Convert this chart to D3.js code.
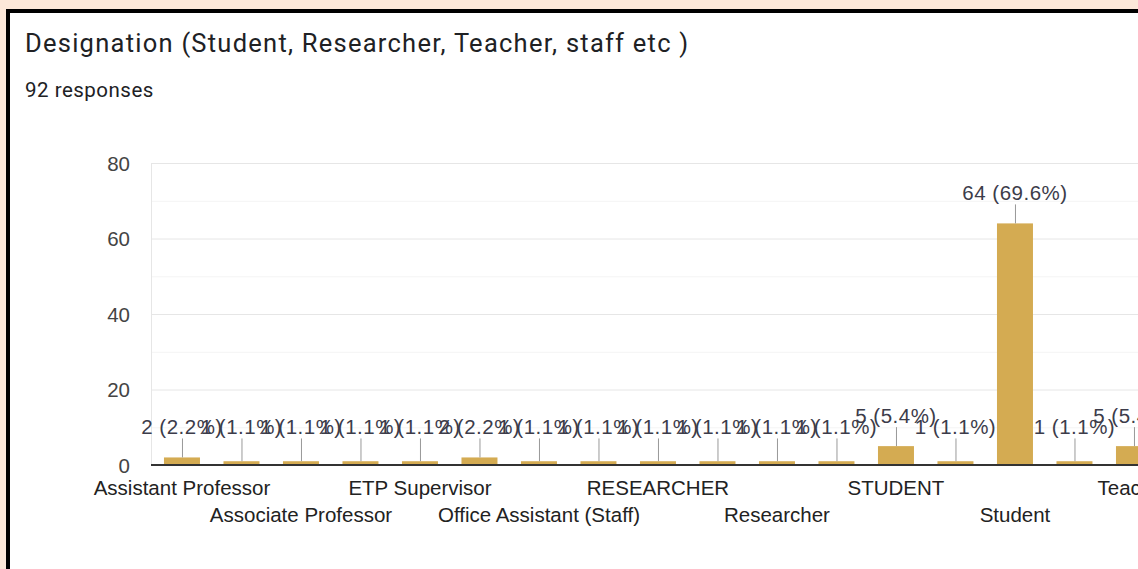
<!DOCTYPE html>
<html>
<head>
<meta charset="utf-8">
<script src="https://cdn.jsdelivr.net/npm/d3@7"></script>
<style>
  html, body { margin: 0; padding: 0; background: #fce8d9; overflow: hidden; }
  svg { display: block; }
</style>
</head>
<body>
<svg id="chart" width="1138" height="569"></svg>
<script>
const titleText = "Designation (Student, Researcher, Teacher, staff etc )";
const subtitleText = "92 responses";
const totalResponses = 92;
const categories = [
  "Assistant Professor", "Assistant professor", "Associate Professor", "Associate professor",
  "ETP Supervisor", "Lecturer", "Office Assistant (Staff)", "PhD Scholar",
  "RESEARCHER", "Research Scholar", "Researcher", "Researcher ",
  "STUDENT", "STUDENT ", "Student", "Student ", "Teacher", "Teaching Assistant", "staff"
];
const counts = [2, 1, 1, 1, 1, 2, 1, 1, 1, 1, 1, 1, 5, 1, 64, 1, 5, 1, 1];
const shownLabelIndex = [0, 2, 4, 6, 8, 10, 12, 14, 16, 18];
const yTicks = [0, 20, 40, 60, 80];
const yMinorTicks = [10, 30, 50, 70];

const svg = d3.select("#chart");

// frame
svg.append("rect").attr("x", 8).attr("y", 11).attr("width", 1400).attr("height", 900)
  .attr("fill", "#ffffff").attr("stroke", "#000000").attr("stroke-width", 4);

svg.append("text").attr("x", 25).attr("y", 52)
  .attr("font-family", "Roboto, 'Noto Sans', sans-serif").attr("font-size", 25.5)
  .attr("letter-spacing", 1.25)
  .attr("fill", "#202124").text(titleText);
svg.append("text").attr("x", 25).attr("y", 97)
  .attr("font-family", "Roboto, 'Noto Sans', sans-serif").attr("font-size", 20.5)
  .attr("letter-spacing", 0.5)
  .attr("fill", "#202124").text(subtitleText);

const left = 151, step = 59.5;
const po = 0.218, pi = 0.395;
const n = categories.length;
const x = d3.scaleBand().domain(categories)
  .range([left, left + step * (n - pi + 2 * po)])
  .paddingInner(pi).paddingOuter(po);
const y = d3.scaleLinear().domain([0, 80]).range([465, 163]);
const xEnd = x.range()[1];

const g = svg.append("g");
// minor grid
g.selectAll(".minor").data(yMinorTicks).join("line")
  .attr("x1", left).attr("x2", xEnd).attr("y1", d => y(d) + 0.5).attr("y2", d => y(d) + 0.5)
  .attr("stroke", "#f4f4f4").attr("stroke-width", 1);
// major grid
g.selectAll(".major").data(yTicks.filter(d => d > 0)).join("line")
  .attr("x1", left).attr("x2", xEnd).attr("y1", d => y(d) + 0.5).attr("y2", d => y(d) + 0.5)
  .attr("stroke", "#e6e6e6").attr("stroke-width", 1);
// left vertical line
g.append("line").attr("x1", left + 0.5).attr("x2", left + 0.5).attr("y1", y(80)).attr("y2", y(0))
  .attr("stroke", "#e6e6e6");

// y tick labels
const yAxis = d3.axisLeft(y).tickValues(yTicks).tickSize(0).tickPadding(0);
const ya = svg.append("g").attr("transform", `translate(130,0)`).call(yAxis);
ya.select(".domain").remove();
ya.selectAll("text").attr("font-family", "'Liberation Sans', Arial, sans-serif")
  .attr("font-size", 20.5).attr("fill", "#444444").attr("dy", "0.36em");

// bars
g.selectAll(".bar").data(counts).join("rect")
  .attr("x", (d, i) => x(categories[i])).attr("width", x.bandwidth())
  .attr("y", d => y(d)).attr("height", d => y(0) - y(d))
  .attr("fill", "#d4ab52");

// baseline
g.append("line").attr("x1", left).attr("x2", xEnd).attr("y1", y(0)).attr("y2", y(0))
  .attr("stroke", "#333333").attr("stroke-width", 2);

// annotations
const baseOf = d => Math.min(y(d), y(2)) - 23;
const cx = i => x(categories[i]) + x.bandwidth() / 2;
g.selectAll(".stem").data(counts).join("line")
  .attr("x1", (d, i) => cx(i) + 0.5).attr("x2", (d, i) => cx(i) + 0.5)
  .attr("y1", d => baseOf(d) + 4).attr("y2", d => y(d))
  .attr("stroke", "#999999").attr("stroke-width", 1);
g.selectAll(".ann").data(counts).join("text")
  .attr("x", (d, i) => cx(i)).attr("y", d => baseOf(d))
  .attr("text-anchor", "middle")
  .attr("font-family", "'Liberation Sans', Arial, sans-serif").attr("font-size", 20.5)
  .attr("letter-spacing", 0.5)
  .attr("fill", "#3c3c4a")
  .text(d => `${d} (${(d / totalResponses * 100).toFixed(1)}%)`);

// x labels (alternating rows)
g.selectAll(".xl").data(shownLabelIndex).join("text")
  .attr("x", i => cx(i)).attr("y", (i, k) => k % 2 === 0 ? 495 : 522)
  .attr("text-anchor", "middle")
  .attr("font-family", "'Liberation Sans', Arial, sans-serif").attr("font-size", 20.5)
  .attr("fill", "#222222")
  .text(i => categories[i]);
</script>
</body>
</html>
